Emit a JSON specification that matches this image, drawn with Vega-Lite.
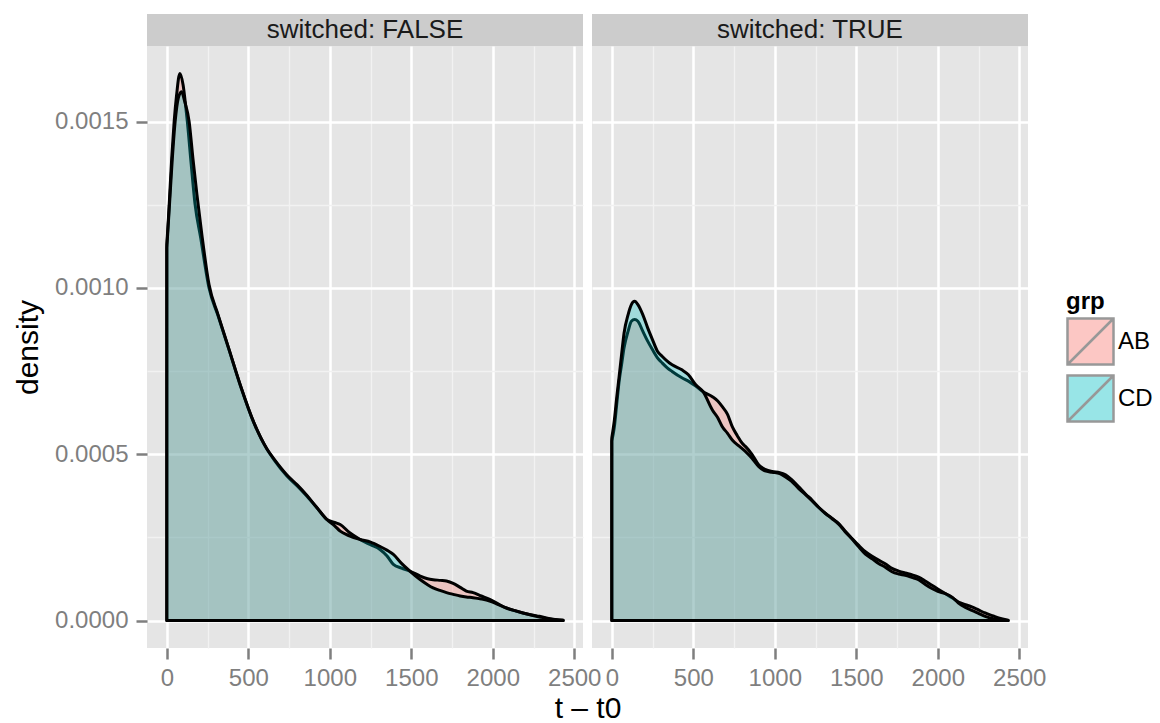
{
  "$schema": "https://vega.github.io/schema/vega-lite/v6.json",
  "autosize": {"type": "none"},
  "padding": {"left": 147, "top": 14, "right": 1013, "bottom": 709},
  "background": "white",
  "title": {
    "text": "Relative to time of first stat type to B",
    "fontSize": 37,
    "fontWeight": "normal",
    "color": "black",
    "baseline": "alphabetic",
    "offset": -6,
    "anchor": "middle"
  },
  "datasets": {
    "dens": [
      {"switched": "FALSE", "grp": "AB", "t": 0, "density": 0.00113},
      {"switched": "FALSE", "grp": "AB", "t": 10, "density": 0.00121},
      {"switched": "FALSE", "grp": "AB", "t": 20, "density": 0.0013},
      {"switched": "FALSE", "grp": "AB", "t": 30, "density": 0.00139},
      {"switched": "FALSE", "grp": "AB", "t": 45, "density": 0.0015},
      {"switched": "FALSE", "grp": "AB", "t": 60, "density": 0.00158},
      {"switched": "FALSE", "grp": "AB", "t": 80, "density": 0.001645},
      {"switched": "FALSE", "grp": "AB", "t": 100, "density": 0.00161},
      {"switched": "FALSE", "grp": "AB", "t": 115, "density": 0.00155},
      {"switched": "FALSE", "grp": "AB", "t": 126, "density": 0.0015},
      {"switched": "FALSE", "grp": "AB", "t": 150, "density": 0.00137},
      {"switched": "FALSE", "grp": "AB", "t": 173, "density": 0.001253},
      {"switched": "FALSE", "grp": "AB", "t": 208, "density": 0.00115},
      {"switched": "FALSE", "grp": "AB", "t": 259, "density": 0.001},
      {"switched": "FALSE", "grp": "AB", "t": 314, "density": 0.000917},
      {"switched": "FALSE", "grp": "AB", "t": 381, "density": 0.000816},
      {"switched": "FALSE", "grp": "AB", "t": 452, "density": 0.000706},
      {"switched": "FALSE", "grp": "AB", "t": 534, "density": 0.000595},
      {"switched": "FALSE", "grp": "AB", "t": 615, "density": 0.000515},
      {"switched": "FALSE", "grp": "AB", "t": 656, "density": 0.000485},
      {"switched": "FALSE", "grp": "AB", "t": 737, "density": 0.000435},
      {"switched": "FALSE", "grp": "AB", "t": 800, "density": 0.000405},
      {"switched": "FALSE", "grp": "AB", "t": 860, "density": 0.000374},
      {"switched": "FALSE", "grp": "AB", "t": 920, "density": 0.00034},
      {"switched": "FALSE", "grp": "AB", "t": 982, "density": 0.000304},
      {"switched": "FALSE", "grp": "AB", "t": 1030, "density": 0.000295},
      {"switched": "FALSE", "grp": "AB", "t": 1064, "density": 0.000289},
      {"switched": "FALSE", "grp": "AB", "t": 1120, "density": 0.000265},
      {"switched": "FALSE", "grp": "AB", "t": 1186, "density": 0.000244},
      {"switched": "FALSE", "grp": "AB", "t": 1250, "density": 0.000228},
      {"switched": "FALSE", "grp": "AB", "t": 1308, "density": 0.000214},
      {"switched": "FALSE", "grp": "AB", "t": 1350, "density": 0.000195},
      {"switched": "FALSE", "grp": "AB", "t": 1390, "density": 0.000169},
      {"switched": "FALSE", "grp": "AB", "t": 1440, "density": 0.000158},
      {"switched": "FALSE", "grp": "AB", "t": 1491, "density": 0.000149},
      {"switched": "FALSE", "grp": "AB", "t": 1550, "density": 0.000135},
      {"switched": "FALSE", "grp": "AB", "t": 1600, "density": 0.000126},
      {"switched": "FALSE", "grp": "AB", "t": 1634, "density": 0.000123},
      {"switched": "FALSE", "grp": "AB", "t": 1680, "density": 0.000121},
      {"switched": "FALSE", "grp": "AB", "t": 1716, "density": 0.000119},
      {"switched": "FALSE", "grp": "AB", "t": 1757, "density": 0.000112},
      {"switched": "FALSE", "grp": "AB", "t": 1800, "density": 0.0001},
      {"switched": "FALSE", "grp": "AB", "t": 1838, "density": 0.000089},
      {"switched": "FALSE", "grp": "AB", "t": 1879, "density": 0.000084},
      {"switched": "FALSE", "grp": "AB", "t": 1930, "density": 0.000074},
      {"switched": "FALSE", "grp": "AB", "t": 1981, "density": 0.000064},
      {"switched": "FALSE", "grp": "AB", "t": 2030, "density": 0.000051},
      {"switched": "FALSE", "grp": "AB", "t": 2083, "density": 0.000038},
      {"switched": "FALSE", "grp": "AB", "t": 2135, "density": 0.00003},
      {"switched": "FALSE", "grp": "AB", "t": 2185, "density": 0.000023},
      {"switched": "FALSE", "grp": "AB", "t": 2240, "density": 0.000017},
      {"switched": "FALSE", "grp": "AB", "t": 2287, "density": 0.000013},
      {"switched": "FALSE", "grp": "AB", "t": 2350, "density": 0.000006},
      {"switched": "FALSE", "grp": "AB", "t": 2432, "density": 0.000001},

      {"switched": "FALSE", "grp": "CD", "t": 0, "density": 0.00112},
      {"switched": "FALSE", "grp": "CD", "t": 10, "density": 0.0012},
      {"switched": "FALSE", "grp": "CD", "t": 20, "density": 0.00128},
      {"switched": "FALSE", "grp": "CD", "t": 30, "density": 0.00136},
      {"switched": "FALSE", "grp": "CD", "t": 51, "density": 0.0015},
      {"switched": "FALSE", "grp": "CD", "t": 70, "density": 0.00157},
      {"switched": "FALSE", "grp": "CD", "t": 90, "density": 0.00159},
      {"switched": "FALSE", "grp": "CD", "t": 110, "density": 0.00156},
      {"switched": "FALSE", "grp": "CD", "t": 137, "density": 0.0015},
      {"switched": "FALSE", "grp": "CD", "t": 160, "density": 0.00139},
      {"switched": "FALSE", "grp": "CD", "t": 185, "density": 0.00128},
      {"switched": "FALSE", "grp": "CD", "t": 215, "density": 0.00116},
      {"switched": "FALSE", "grp": "CD", "t": 259, "density": 0.00101},
      {"switched": "FALSE", "grp": "CD", "t": 314, "density": 0.00092},
      {"switched": "FALSE", "grp": "CD", "t": 381, "density": 0.000816},
      {"switched": "FALSE", "grp": "CD", "t": 452, "density": 0.000706},
      {"switched": "FALSE", "grp": "CD", "t": 534, "density": 0.000595},
      {"switched": "FALSE", "grp": "CD", "t": 615, "density": 0.000515},
      {"switched": "FALSE", "grp": "CD", "t": 656, "density": 0.000487},
      {"switched": "FALSE", "grp": "CD", "t": 737, "density": 0.000438},
      {"switched": "FALSE", "grp": "CD", "t": 800, "density": 0.000408},
      {"switched": "FALSE", "grp": "CD", "t": 860, "density": 0.000376},
      {"switched": "FALSE", "grp": "CD", "t": 920, "density": 0.00034},
      {"switched": "FALSE", "grp": "CD", "t": 982, "density": 0.000304},
      {"switched": "FALSE", "grp": "CD", "t": 1030, "density": 0.000285},
      {"switched": "FALSE", "grp": "CD", "t": 1064, "density": 0.000269},
      {"switched": "FALSE", "grp": "CD", "t": 1120, "density": 0.000255},
      {"switched": "FALSE", "grp": "CD", "t": 1186, "density": 0.000244},
      {"switched": "FALSE", "grp": "CD", "t": 1250, "density": 0.000236},
      {"switched": "FALSE", "grp": "CD", "t": 1308, "density": 0.000223},
      {"switched": "FALSE", "grp": "CD", "t": 1350, "density": 0.000212},
      {"switched": "FALSE", "grp": "CD", "t": 1390, "density": 0.000199},
      {"switched": "FALSE", "grp": "CD", "t": 1440, "density": 0.000172},
      {"switched": "FALSE", "grp": "CD", "t": 1491, "density": 0.000149},
      {"switched": "FALSE", "grp": "CD", "t": 1550, "density": 0.000125},
      {"switched": "FALSE", "grp": "CD", "t": 1600, "density": 0.000108},
      {"switched": "FALSE", "grp": "CD", "t": 1634, "density": 0.0000984},
      {"switched": "FALSE", "grp": "CD", "t": 1680, "density": 0.00009},
      {"switched": "FALSE", "grp": "CD", "t": 1716, "density": 0.0000843},
      {"switched": "FALSE", "grp": "CD", "t": 1757, "density": 0.000079},
      {"switched": "FALSE", "grp": "CD", "t": 1800, "density": 0.000074},
      {"switched": "FALSE", "grp": "CD", "t": 1838, "density": 0.000071},
      {"switched": "FALSE", "grp": "CD", "t": 1879, "density": 0.000069},
      {"switched": "FALSE", "grp": "CD", "t": 1930, "density": 0.000065},
      {"switched": "FALSE", "grp": "CD", "t": 1981, "density": 0.000059},
      {"switched": "FALSE", "grp": "CD", "t": 2030, "density": 0.000049},
      {"switched": "FALSE", "grp": "CD", "t": 2083, "density": 0.000038},
      {"switched": "FALSE", "grp": "CD", "t": 2135, "density": 0.00003},
      {"switched": "FALSE", "grp": "CD", "t": 2185, "density": 0.000023},
      {"switched": "FALSE", "grp": "CD", "t": 2240, "density": 0.000016},
      {"switched": "FALSE", "grp": "CD", "t": 2287, "density": 0.000011},
      {"switched": "FALSE", "grp": "CD", "t": 2350, "density": 0.000005},
      {"switched": "FALSE", "grp": "CD", "t": 2432, "density": 0.000001},

      {"switched": "TRUE", "grp": "AB", "t": 0, "density": 0.00054},
      {"switched": "TRUE", "grp": "AB", "t": 15, "density": 0.00058},
      {"switched": "TRUE", "grp": "AB", "t": 30, "density": 0.00065},
      {"switched": "TRUE", "grp": "AB", "t": 45, "density": 0.00072},
      {"switched": "TRUE", "grp": "AB", "t": 60, "density": 0.00077},
      {"switched": "TRUE", "grp": "AB", "t": 75, "density": 0.00082},
      {"switched": "TRUE", "grp": "AB", "t": 100, "density": 0.00087},
      {"switched": "TRUE", "grp": "AB", "t": 120, "density": 0.0009},
      {"switched": "TRUE", "grp": "AB", "t": 140, "density": 0.000905},
      {"switched": "TRUE", "grp": "AB", "t": 160, "density": 0.0009},
      {"switched": "TRUE", "grp": "AB", "t": 190, "density": 0.00087},
      {"switched": "TRUE", "grp": "AB", "t": 220, "density": 0.00084},
      {"switched": "TRUE", "grp": "AB", "t": 250, "density": 0.000814},
      {"switched": "TRUE", "grp": "AB", "t": 280, "density": 0.00079},
      {"switched": "TRUE", "grp": "AB", "t": 310, "density": 0.000774},
      {"switched": "TRUE", "grp": "AB", "t": 340, "density": 0.00076},
      {"switched": "TRUE", "grp": "AB", "t": 370, "density": 0.000749},
      {"switched": "TRUE", "grp": "AB", "t": 430, "density": 0.00073},
      {"switched": "TRUE", "grp": "AB", "t": 470, "density": 0.00072},
      {"switched": "TRUE", "grp": "AB", "t": 515, "density": 0.000705},
      {"switched": "TRUE", "grp": "AB", "t": 560, "density": 0.000688},
      {"switched": "TRUE", "grp": "AB", "t": 617, "density": 0.000673},
      {"switched": "TRUE", "grp": "AB", "t": 650, "density": 0.00066},
      {"switched": "TRUE", "grp": "AB", "t": 678, "density": 0.000643},
      {"switched": "TRUE", "grp": "AB", "t": 710, "density": 0.00062},
      {"switched": "TRUE", "grp": "AB", "t": 739, "density": 0.000583},
      {"switched": "TRUE", "grp": "AB", "t": 770, "density": 0.000556},
      {"switched": "TRUE", "grp": "AB", "t": 800, "density": 0.000533},
      {"switched": "TRUE", "grp": "AB", "t": 821, "density": 0.000523},
      {"switched": "TRUE", "grp": "AB", "t": 860, "density": 0.0005},
      {"switched": "TRUE", "grp": "AB", "t": 902, "density": 0.000468},
      {"switched": "TRUE", "grp": "AB", "t": 940, "density": 0.000455},
      {"switched": "TRUE", "grp": "AB", "t": 984, "density": 0.000448},
      {"switched": "TRUE", "grp": "AB", "t": 1030, "density": 0.000445},
      {"switched": "TRUE", "grp": "AB", "t": 1066, "density": 0.000438},
      {"switched": "TRUE", "grp": "AB", "t": 1100, "density": 0.000425},
      {"switched": "TRUE", "grp": "AB", "t": 1147, "density": 0.000402},
      {"switched": "TRUE", "grp": "AB", "t": 1190, "density": 0.00038},
      {"switched": "TRUE", "grp": "AB", "t": 1229, "density": 0.000362},
      {"switched": "TRUE", "grp": "AB", "t": 1270, "density": 0.00034},
      {"switched": "TRUE", "grp": "AB", "t": 1311, "density": 0.000322},
      {"switched": "TRUE", "grp": "AB", "t": 1350, "density": 0.000308},
      {"switched": "TRUE", "grp": "AB", "t": 1392, "density": 0.000292},
      {"switched": "TRUE", "grp": "AB", "t": 1430, "density": 0.00027},
      {"switched": "TRUE", "grp": "AB", "t": 1474, "density": 0.000247},
      {"switched": "TRUE", "grp": "AB", "t": 1515, "density": 0.000226},
      {"switched": "TRUE", "grp": "AB", "t": 1556, "density": 0.000207},
      {"switched": "TRUE", "grp": "AB", "t": 1600, "density": 0.000193},
      {"switched": "TRUE", "grp": "AB", "t": 1637, "density": 0.000182},
      {"switched": "TRUE", "grp": "AB", "t": 1680, "density": 0.00017},
      {"switched": "TRUE", "grp": "AB", "t": 1719, "density": 0.000157},
      {"switched": "TRUE", "grp": "AB", "t": 1760, "density": 0.000149},
      {"switched": "TRUE", "grp": "AB", "t": 1801, "density": 0.000143},
      {"switched": "TRUE", "grp": "AB", "t": 1840, "density": 0.000138},
      {"switched": "TRUE", "grp": "AB", "t": 1882, "density": 0.000131},
      {"switched": "TRUE", "grp": "AB", "t": 1920, "density": 0.00012},
      {"switched": "TRUE", "grp": "AB", "t": 1964, "density": 0.000106},
      {"switched": "TRUE", "grp": "AB", "t": 2000, "density": 0.000095},
      {"switched": "TRUE", "grp": "AB", "t": 2046, "density": 0.0000813},
      {"switched": "TRUE", "grp": "AB", "t": 2090, "density": 0.000068},
      {"switched": "TRUE", "grp": "AB", "t": 2127, "density": 0.000056},
      {"switched": "TRUE", "grp": "AB", "t": 2170, "density": 0.000048},
      {"switched": "TRUE", "grp": "AB", "t": 2209, "density": 0.000041},
      {"switched": "TRUE", "grp": "AB", "t": 2250, "density": 0.000032},
      {"switched": "TRUE", "grp": "AB", "t": 2291, "density": 0.000023},
      {"switched": "TRUE", "grp": "AB", "t": 2340, "density": 0.000014},
      {"switched": "TRUE", "grp": "AB", "t": 2373, "density": 0.000008},
      {"switched": "TRUE", "grp": "AB", "t": 2432, "density": 0.000001},

      {"switched": "TRUE", "grp": "CD", "t": 0, "density": 0.00055},
      {"switched": "TRUE", "grp": "CD", "t": 15, "density": 0.0006},
      {"switched": "TRUE", "grp": "CD", "t": 30, "density": 0.00067},
      {"switched": "TRUE", "grp": "CD", "t": 45, "density": 0.000734},
      {"switched": "TRUE", "grp": "CD", "t": 60, "density": 0.0008},
      {"switched": "TRUE", "grp": "CD", "t": 75, "density": 0.000864},
      {"switched": "TRUE", "grp": "CD", "t": 100, "density": 0.00092},
      {"switched": "TRUE", "grp": "CD", "t": 120, "density": 0.00095},
      {"switched": "TRUE", "grp": "CD", "t": 140, "density": 0.00096},
      {"switched": "TRUE", "grp": "CD", "t": 160, "density": 0.00095},
      {"switched": "TRUE", "grp": "CD", "t": 190, "density": 0.00092},
      {"switched": "TRUE", "grp": "CD", "t": 220, "density": 0.00088},
      {"switched": "TRUE", "grp": "CD", "t": 250, "density": 0.000844},
      {"switched": "TRUE", "grp": "CD", "t": 280, "density": 0.00081},
      {"switched": "TRUE", "grp": "CD", "t": 310, "density": 0.000794},
      {"switched": "TRUE", "grp": "CD", "t": 340, "density": 0.00078},
      {"switched": "TRUE", "grp": "CD", "t": 370, "density": 0.000769},
      {"switched": "TRUE", "grp": "CD", "t": 430, "density": 0.000754},
      {"switched": "TRUE", "grp": "CD", "t": 470, "density": 0.000739},
      {"switched": "TRUE", "grp": "CD", "t": 515, "density": 0.000709},
      {"switched": "TRUE", "grp": "CD", "t": 560, "density": 0.000688},
      {"switched": "TRUE", "grp": "CD", "t": 617, "density": 0.000633},
      {"switched": "TRUE", "grp": "CD", "t": 650, "density": 0.00061},
      {"switched": "TRUE", "grp": "CD", "t": 678, "density": 0.000583},
      {"switched": "TRUE", "grp": "CD", "t": 710, "density": 0.000563},
      {"switched": "TRUE", "grp": "CD", "t": 739, "density": 0.000543},
      {"switched": "TRUE", "grp": "CD", "t": 780, "density": 0.000525},
      {"switched": "TRUE", "grp": "CD", "t": 821, "density": 0.000508},
      {"switched": "TRUE", "grp": "CD", "t": 860, "density": 0.000488},
      {"switched": "TRUE", "grp": "CD", "t": 902, "density": 0.000463},
      {"switched": "TRUE", "grp": "CD", "t": 940, "density": 0.00045},
      {"switched": "TRUE", "grp": "CD", "t": 984, "density": 0.000446},
      {"switched": "TRUE", "grp": "CD", "t": 1030, "density": 0.000442},
      {"switched": "TRUE", "grp": "CD", "t": 1066, "density": 0.000432},
      {"switched": "TRUE", "grp": "CD", "t": 1100, "density": 0.00042},
      {"switched": "TRUE", "grp": "CD", "t": 1147, "density": 0.000397},
      {"switched": "TRUE", "grp": "CD", "t": 1190, "density": 0.000378},
      {"switched": "TRUE", "grp": "CD", "t": 1229, "density": 0.00036},
      {"switched": "TRUE", "grp": "CD", "t": 1270, "density": 0.00034},
      {"switched": "TRUE", "grp": "CD", "t": 1311, "density": 0.000322},
      {"switched": "TRUE", "grp": "CD", "t": 1350, "density": 0.000307},
      {"switched": "TRUE", "grp": "CD", "t": 1392, "density": 0.00029},
      {"switched": "TRUE", "grp": "CD", "t": 1430, "density": 0.000268},
      {"switched": "TRUE", "grp": "CD", "t": 1474, "density": 0.000245},
      {"switched": "TRUE", "grp": "CD", "t": 1515, "density": 0.000222},
      {"switched": "TRUE", "grp": "CD", "t": 1556, "density": 0.0002},
      {"switched": "TRUE", "grp": "CD", "t": 1600, "density": 0.000185},
      {"switched": "TRUE", "grp": "CD", "t": 1637, "density": 0.000172},
      {"switched": "TRUE", "grp": "CD", "t": 1680, "density": 0.00016},
      {"switched": "TRUE", "grp": "CD", "t": 1719, "density": 0.000147},
      {"switched": "TRUE", "grp": "CD", "t": 1760, "density": 0.00014},
      {"switched": "TRUE", "grp": "CD", "t": 1801, "density": 0.000136},
      {"switched": "TRUE", "grp": "CD", "t": 1840, "density": 0.00013},
      {"switched": "TRUE", "grp": "CD", "t": 1882, "density": 0.000123},
      {"switched": "TRUE", "grp": "CD", "t": 1920, "density": 0.00011},
      {"switched": "TRUE", "grp": "CD", "t": 1964, "density": 0.0000964},
      {"switched": "TRUE", "grp": "CD", "t": 2000, "density": 0.000088},
      {"switched": "TRUE", "grp": "CD", "t": 2046, "density": 0.0000813},
      {"switched": "TRUE", "grp": "CD", "t": 2090, "density": 0.00007},
      {"switched": "TRUE", "grp": "CD", "t": 2127, "density": 0.000053},
      {"switched": "TRUE", "grp": "CD", "t": 2170, "density": 0.00004},
      {"switched": "TRUE", "grp": "CD", "t": 2209, "density": 0.000031},
      {"switched": "TRUE", "grp": "CD", "t": 2250, "density": 0.000022},
      {"switched": "TRUE", "grp": "CD", "t": 2291, "density": 0.000013},
      {"switched": "TRUE", "grp": "CD", "t": 2340, "density": 0.000006},
      {"switched": "TRUE", "grp": "CD", "t": 2373, "density": 0.000003},
      {"switched": "TRUE", "grp": "CD", "t": 2432, "density": 0.0000005}
    ]
  },
  "bounds": "flush",
  "columns": 2,
  "spacing": {"row": 0, "column": 9},
  "concat": [
    {
      "width": 436,
      "height": 32,
      "view": {"fill": "#CCCCCC", "stroke": null},
      "data": {"values": [{"label": "switched: FALSE"}]},
      "mark": {"type": "text", "fontSize": 26, "color": "#1A1A1A"},
      "encoding": {"text": {"field": "label", "type": "nominal"}}
    },
    {
      "width": 436,
      "height": 32,
      "view": {"fill": "#CCCCCC", "stroke": null},
      "data": {"values": [{"label": "switched: TRUE"}]},
      "mark": {"type": "text", "fontSize": 26, "color": "#1A1A1A"},
      "encoding": {"text": {"field": "label", "type": "nominal"}}
    },
    {
      "width": 436,
      "height": 602,
      "data": {"name": "dens"},
      "transform": [{"filter": "datum.switched == 'FALSE'"}],
      "layer": [
        {
          "transform": [{"filter": "datum.grp == 'AB'"}],
          "mark": {"type": "area", "interpolate": "monotone", "fillOpacity": 0.3, "stroke": "black", "strokeWidth": 3, "strokeJoin": "round"},
          "encoding": {
            "x": {"field": "t", "type": "quantitative",
              "scale": {"domain": [-121.6, 2553.6], "nice": false, "zero": false},
              "axis": {"orient": "bottom", "values": [0, 500, 1000, 1500, 2000, 2500], "format": "d",
                "grid": true, "gridColor": "white", "gridWidth": 2.5,
                "title": "t – t0", "titleX": 440.5, "titleY": 69, "titleAlign": "center", "titleBaseline": "alphabetic", "titleAngle": 0}},
            "y": {"field": "density", "type": "quantitative", "stack": null,
              "scale": {"domain": [-0.0000823, 0.0017273], "nice": false, "zero": false},
              "axis": {"orient": "left", "values": [0, 0.0005, 0.001, 0.0015], "format": ".4f",
                "grid": true, "gridColor": "white", "gridWidth": 2.5, "labelPadding": 8,
                "title": "density", "titleX": -110, "titleY": 301, "titleAlign": "center", "titleBaseline": "alphabetic", "titleAngle": 270}},
            "fill": {"field": "grp", "type": "nominal", "scale": {"domain": ["AB", "CD"], "range": ["#F8766D", "#00BFC4"]}, "title": "grp"}
          }
        },
        {
          "transform": [{"filter": "datum.grp == 'CD'"}],
          "mark": {"type": "area", "interpolate": "monotone", "fillOpacity": 0.3, "stroke": "black", "strokeWidth": 3, "strokeJoin": "round"},
          "encoding": {
            "x": {"field": "t", "type": "quantitative",
              "axis": {"orient": "bottom", "values": [250, 750, 1250, 1750, 2250], "grid": true, "gridColor": "#F2F2F2", "gridWidth": 1.3, "labels": false, "ticks": false, "title": null}},
            "y": {"field": "density", "type": "quantitative", "stack": null,
              "axis": {"orient": "left", "values": [0.00025, 0.00075, 0.00125], "grid": true, "gridColor": "#F2F2F2", "gridWidth": 1.3, "labels": false, "ticks": false, "title": null}},
            "fill": {"field": "grp", "type": "nominal", "title": "grp"}
          }
        }
      ],
      "resolve": {"axis": {"x": "independent", "y": "independent"}}
    },
    {
      "width": 436,
      "height": 602,
      "data": {"name": "dens"},
      "transform": [{"filter": "datum.switched == 'TRUE'"}],
      "layer": [
        {
          "transform": [{"filter": "datum.grp == 'AB'"}],
          "mark": {"type": "area", "interpolate": "monotone", "fillOpacity": 0.3, "stroke": "black", "strokeWidth": 3, "strokeJoin": "round"},
          "encoding": {
            "x": {"field": "t", "type": "quantitative",
              "scale": {"domain": [-121.6, 2553.6], "nice": false, "zero": false},
              "axis": {"orient": "bottom", "values": [0, 500, 1000, 1500, 2000, 2500], "format": "d",
                "grid": true, "gridColor": "white", "gridWidth": 2.5, "title": null}},
            "y": {"field": "density", "type": "quantitative", "stack": null,
              "scale": {"domain": [-0.0000823, 0.0017273], "nice": false, "zero": false},
              "axis": {"orient": "left", "values": [0, 0.0005, 0.001, 0.0015],
                "grid": true, "gridColor": "white", "gridWidth": 2.5, "labels": false, "ticks": false, "title": null}},
            "fill": {"field": "grp", "type": "nominal", "scale": {"domain": ["AB", "CD"], "range": ["#F8766D", "#00BFC4"]}, "title": "grp"}
          }
        },
        {
          "transform": [{"filter": "datum.grp == 'CD'"}],
          "mark": {"type": "area", "interpolate": "monotone", "fillOpacity": 0.3, "stroke": "black", "strokeWidth": 3, "strokeJoin": "round"},
          "encoding": {
            "x": {"field": "t", "type": "quantitative",
              "axis": {"orient": "bottom", "values": [250, 750, 1250, 1750, 2250], "grid": true, "gridColor": "#F2F2F2", "gridWidth": 1.3, "labels": false, "ticks": false, "title": null}},
            "y": {"field": "density", "type": "quantitative", "stack": null,
              "axis": {"orient": "left", "values": [0.00025, 0.00075, 0.00125], "grid": true, "gridColor": "#F2F2F2", "gridWidth": 1.3, "labels": false, "ticks": false, "title": null}},
            "fill": {"field": "grp", "type": "nominal", "title": "grp"}
          }
        }
      ],
      "resolve": {"axis": {"x": "independent", "y": "independent"}}
    }
  ],
  "config": {
    "font": "Liberation Sans",
    "view": {"fill": "#E5E5E5", "stroke": null},
    "axis": {
      "domain": false,
      "labelFont": "Liberation Sans",
      "labelFontSize": 24,
      "labelColor": "#7F7F7F",
      "labelPadding": 7,
      "labelOverlap": false,
      "labelFlush": false,
      "labelBound": false,
      "tickColor": "#7F7F7F",
      "tickSize": 11,
      "tickWidth": 2.5,
      "titleFont": "Liberation Sans",
      "titleFontSize": 30,
      "titleFontWeight": "normal",
      "titleColor": "black"
    },
    "legend": {
      "orient": "none",
      "legendX": 919,
      "legendY": 276,
      "padding": 0,
      "titleFont": "Liberation Sans",
      "titleFontSize": 24,
      "titleFontWeight": "bold",
      "titleColor": "black",
      "titlePadding": 3,
      "labelFont": "Liberation Sans",
      "labelFontSize": 24,
      "labelColor": "black",
      "labelOffset": 3,
      "symbolSize": 2116,
      "symbolType": "M-1,-1H1V1H-1Z M-1,1L1,-1",
      "symbolStrokeWidth": 2.5,
      "symbolStrokeColor": "black",
      "symbolOpacity": 0.4,
      "rowPadding": 0
    }
  }
}
